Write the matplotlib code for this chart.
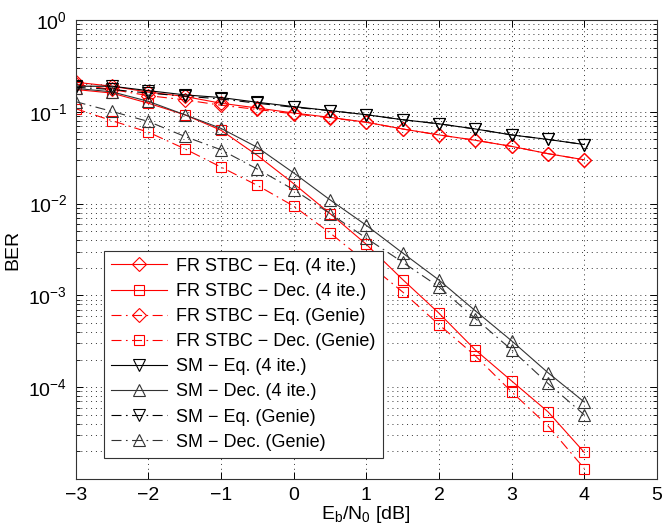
import matplotlib
matplotlib.use("Agg")
import matplotlib.pyplot as plt
from matplotlib.ticker import LogLocator, NullFormatter, FixedLocator

plt.rcParams['font.family'] = ['Liberation Sans', 'DejaVu Sans']
plt.rcParams['mathtext.default'] = 'regular'

ebn0 = [-3, -2.5, -2, -1.5, -1, -0.5, 0, 0.5, 1, 1.5, 2, 2.5, 3, 3.5, 4]

fr_eq_4 = [0.21, 0.19, 0.164, 0.147, 0.124, 0.110, 0.097, 0.087, 0.077, 0.065,
           0.056, 0.049, 0.042, 0.035, 0.030]
fr_dec_4 = [0.175, 0.16, 0.124, 0.093, 0.063, 0.0335, 0.0165, 0.0078, 0.0036, 0.00149,
            0.00064, 0.000255, 0.000117, 0.000054, 0.0000195]
fr_eq_genie = [0.20, 0.175, 0.15, 0.135, 0.118, 0.106, 0.095, 0.086, 0.077, 0.065,
               0.056, 0.049, 0.042, 0.035, 0.030]
fr_dec_genie = [0.108, 0.080, 0.060, 0.0396, 0.025, 0.0158, 0.0094, 0.0048, 0.0023, 0.00109,
                0.00048, 0.00022, 0.000089, 0.000038, 0.000013]

sm_eq_4 = [0.19, 0.19, 0.17, 0.153, 0.143, 0.127, 0.114, 0.103, 0.093, 0.082,
           0.074, 0.065, 0.056, 0.050, 0.044]
sm_dec_4 = [0.18, 0.165, 0.13, 0.093, 0.066, 0.041, 0.0216, 0.011, 0.0058, 0.0029,
            0.00147, 0.00068, 0.00032, 0.000144, 0.000069]
sm_eq_genie = [0.185, 0.175, 0.16, 0.148, 0.138, 0.124, 0.112, 0.103, 0.093, 0.082,
               0.074, 0.065, 0.056, 0.050, 0.044]
sm_dec_genie = [0.129, 0.101, 0.0785, 0.054, 0.0386, 0.0238, 0.0142, 0.0078, 0.0042, 0.0023,
                0.00124, 0.00056, 0.000255, 0.00011, 0.00005]

dashdot = (0, (9, 4, 1.5, 4))

fig = plt.figure(figsize=(6.69, 5.32), dpi=100)
ax = fig.add_axes([0.1131, 0.0996, 0.8689, 0.8628])

common = dict(linewidth=0.8, markerfacecolor='none', markeredgewidth=0.8)
ax.semilogy(ebn0, fr_eq_4, color='red', marker='D', markersize=7, linestyle='-',
            label='FR STBC \u2212 Eq. (4 ite.)', **common)
ax.semilogy(ebn0, fr_dec_4, color='red', marker='s', markersize=6.5, linestyle='-',
            label='FR STBC \u2212 Dec. (4 ite.)', **common)
ax.semilogy(ebn0, fr_eq_genie, color='red', marker='D', markersize=7, linestyle=dashdot,
            label='FR STBC \u2212 Eq. (Genie)', **common)
ax.semilogy(ebn0, fr_dec_genie, color='red', marker='s', markersize=6.5, linestyle=dashdot,
            label='FR STBC \u2212 Dec. (Genie)', **common)
ax.semilogy(ebn0, sm_eq_4, color='black', marker='v', markersize=9, linestyle='-',
            label='SM \u2212 Eq. (4 ite.)', **common)
ax.semilogy(ebn0, sm_dec_4, color='#333333', marker='^', markersize=9, linestyle='-',
            label='SM \u2212 Dec. (4 ite.)', **common)
ax.semilogy(ebn0, sm_eq_genie, color='black', marker='v', markersize=9, linestyle=dashdot,
            label='SM \u2212 Eq. (Genie)', **common)
ax.semilogy(ebn0, sm_dec_genie, color='#333333', marker='^', markersize=9, linestyle=dashdot,
            label='SM \u2212 Dec. (Genie)', **common)

ax.set_xlim(-3, 5)
ax.set_ylim(1e-5, 1)
ax.set_xticks(range(-3, 6))
ax.set_xticklabels(['\u22123', '\u22122', '\u22121', '0', '1', '2', '3', '4', '5'])
ax.yaxis.set_major_locator(FixedLocator([1e-4, 1e-3, 1e-2, 1e-1, 1]))
ax.set_yticklabels([r'$10^{-4}$', r'$10^{-3}$', r'$10^{-2}$', r'$10^{-1}$', r'$10^{0}$'])
ax.yaxis.set_minor_locator(LogLocator(base=10, subs=range(2, 10), numticks=20))
ax.yaxis.set_minor_formatter(NullFormatter())

ax.tick_params(which='both', direction='in', top=True, right=True, labelsize=14)
ax.tick_params(which='major', length=5, width=0.7, pad=6)
ax.tick_params(which='minor', length=3, width=0.6)

grid_style = dict(color='#333333', linestyle=(0, (1, 4)), linewidth=0.7)
ax.grid(True, which='major', axis='both', **grid_style)
ax.grid(True, which='minor', axis='y', **grid_style)

for sp in ax.spines.values():
    sp.set_color('#333333')
    sp.set_linewidth(0.8)

ax.set_xlabel(r'E$_b$/N$_0$ [dB]', fontsize=14, labelpad=0)
ax.set_ylabel('BER', fontsize=14, labelpad=5)

leg = ax.legend(loc='lower left', bbox_to_anchor=(0.0487, 0.046), borderaxespad=0,
                fontsize=13, frameon=True, fancybox=False, framealpha=1,
                edgecolor='#333333', handlelength=3.1, labelspacing=0.45,
                handletextpad=0.5, borderpad=0.4)
leg.get_frame().set_linewidth(0.8)

fig.savefig('out.png', dpi=100)
